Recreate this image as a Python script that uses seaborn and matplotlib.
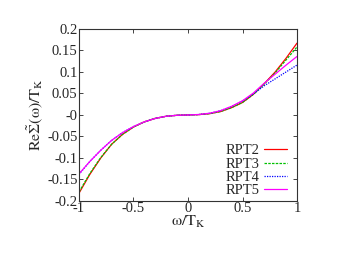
import numpy as np
import pandas as pd
import matplotlib
matplotlib.use('Agg')
import matplotlib.pyplot as plt
import seaborn as sns

# values (x in units of T_K)
omega = [-1.0, -0.9, -0.8, -0.7, -0.6, -0.5, -0.4, -0.3, -0.2, -0.1, 0.0,
         0.1, 0.2, 0.3, 0.4, 0.5, 0.6, 0.7, 0.8, 0.9, 1.0]
rpt2 = [-0.182, -0.138, -0.100, -0.068, -0.045, -0.028, -0.016, -0.008, -0.003, -0.0008, 0.0,
        0.0008, 0.003, 0.008, 0.017, 0.029, 0.048, 0.073, 0.100, 0.132, 0.167]
rpt3 = [-0.179, -0.136, -0.099, -0.068, -0.045, -0.028, -0.016, -0.008, -0.003, -0.0008, 0.0,
        0.0008, 0.003, 0.008, 0.017, 0.029, 0.048, 0.072, 0.098, 0.128, 0.158]
rpt4 = [-0.138, -0.108, -0.082, -0.059, -0.041, -0.027, -0.016, -0.008, -0.003, -0.0008, 0.0,
        0.001, 0.004, 0.010, 0.020, 0.032, 0.049, 0.068, 0.084, 0.100, 0.116]
rpt5 = [-0.137, -0.108, -0.082, -0.059, -0.041, -0.027, -0.016, -0.008, -0.003, -0.0008, 0.0,
        0.001, 0.004, 0.010, 0.020, 0.033, 0.051, 0.074, 0.095, 0.116, 0.136]

series = {'RPT2': rpt2, 'RPT3': rpt3, 'RPT4': rpt4, 'RPT5': rpt5}
colors = {'RPT2': '#ff0000', 'RPT3': '#00c000', 'RPT4': '#0000ff', 'RPT5': '#ff00ff'}
styles = {'RPT2': '-', 'RPT3': (0, (2, 1)), 'RPT4': (0, (1, 1)), 'RPT5': '-'}

sns.set_style('ticks')
plt.rcParams['font.family'] = ['Liberation Serif', 'DejaVu Serif']
plt.rcParams['mathtext.fontset'] = 'stix'
plt.rcParams['axes.unicode_minus'] = False

fig = plt.figure(figsize=(3.63, 2.56), dpi=100)
ax = fig.add_axes([0.2176, 0.215, 0.6006, 0.672])

for name, vals in series.items():
    df = pd.DataFrame({'omega': omega, 'val': vals})
    sns.lineplot(data=df, x='omega', y='val', ax=ax, color=colors[name],
                 linestyle=styles[name], linewidth=0.9, label=name)

ax.set_xlim(-1, 1)
ax.set_ylim(-0.2, 0.2)
ax.set_xticks([-1, -0.5, 0, 0.5, 1])
ax.set_yticks(np.arange(-0.2, 0.201, 0.05))
fmt = plt.FuncFormatter(lambda v, p: '%g' % round(v, 3))
ax.xaxis.set_major_formatter(fmt)
ax.yaxis.set_major_formatter(fmt)
ax.tick_params(direction='in', top=True, right=True, labelsize=10.5,
               length=3, width=0.6, pad=1)
for s in ax.spines.values():
    s.set_linewidth(0.8)
    s.set_color('#333333')

ax.set_xlabel(r'$\mathrm{\omega/T_K}$', fontsize=11.5, labelpad=-1)
ax.set_ylabel(r'$\mathrm{Re\tilde{\Sigma}(\omega)/T_K}$', fontsize=11.5, labelpad=1)

ax.legend(loc='lower right', bbox_to_anchor=(0.965, 0.01), frameon=False,
          markerfirst=False, fontsize=10.5, handlelength=1.6,
          handletextpad=0.3, labelspacing=0.0, borderaxespad=0.0,
          borderpad=0.15)

fig.savefig('out.png', dpi=100)
